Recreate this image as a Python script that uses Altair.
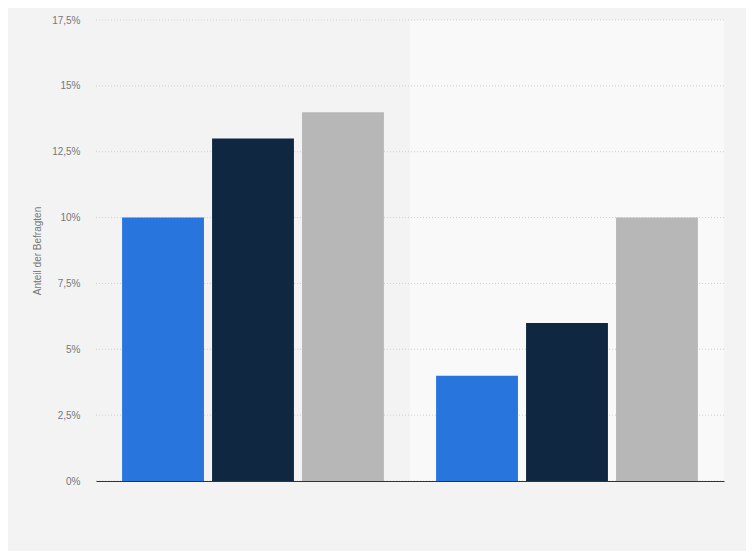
import altair as alt
import pandas as pd

categories = ["Gruppe A", "Gruppe A", "Gruppe A", "Gruppe B", "Gruppe B", "Gruppe B"]
series = ["Serie 1", "Serie 2", "Serie 3", "Serie 1", "Serie 2", "Serie 3"]
values = [10, 13, 14, 4, 6, 10]
series_order = ["Serie 1", "Serie 2", "Serie 3"]
series_colors = ["#2876dd", "#0f2740", "#b7b7b7"]
band_cats = ["Gruppe A", "Gruppe B"]
band_fill = ["#f3f3f3", "#f9f9f9"]
y_ticks = [0, 2.5, 5, 7.5, 10, 12.5, 15, 17.5]

df = pd.DataFrame({"cat": categories, "series": series, "value": values})
bands = pd.DataFrame({"cat": band_cats, "fill": band_fill})

xscale = alt.Scale(domain=band_cats, paddingInner=0, paddingOuter=0)
xaxis = alt.Axis(labels=False, ticks=False, title=None, domain=True,
                 domainColor="#333333", domainWidth=1.2, grid=False)
yscale = alt.Scale(domain=[0, 17.5], nice=False)
label_expr = ("datum.value % 1 == 0 ? format(datum.value, 'd') + '%' : "
              "replace(format(datum.value, '.1f'), '.', ',') + '%'")
yaxis = alt.Axis(values=y_ticks, labelExpr=label_expr, title="Anteil der Befragten",
                 domain=False, ticks=False, labelPadding=16, titlePadding=9,
                 gridDash=[1, 2], gridColor="#cfcfcf", labelColor="#777777",
                 labelFontSize=10, titleFontSize=10, titleColor="#777777",
                 titleFontWeight="normal", labelFont="Liberation Sans",
                 titleFont="Liberation Sans")

bg = alt.Chart(bands).mark_rect().encode(
    x=alt.X("cat:N", scale=xscale, axis=xaxis),
    color=alt.Color("fill:N", scale=None, legend=None),
)

bars = alt.Chart(df).mark_bar(stroke=None).encode(
    x=alt.X("cat:N", scale=xscale, axis=xaxis),
    xOffset=alt.XOffset("series:N", sort=series_order,
                        scale=alt.Scale(paddingInner=0.09, paddingOuter=0.29)),
    y=alt.Y("value:Q", scale=yscale, axis=yaxis),
    color=alt.Color("series:N", sort=series_order,
                    scale=alt.Scale(domain=series_order, range=series_colors),
                    legend=None),
)

grid = alt.Chart(pd.DataFrame({"v": y_ticks})).mark_rule(
    color="#cfcfcf", strokeDash=[1, 2], strokeWidth=1
).encode(y=alt.Y("v:Q", scale=yscale, axis=yaxis))

chart = alt.layer(bg, grid, bars).properties(
    width=628, height=461,
    background="#f3f3f3",
    padding={"left": 88, "top": 12, "right": 22, "bottom": 70},
    autosize=alt.AutoSizeParams(type="none"),
).configure_view(stroke=None).configure_axis(grid=False)

chart.save("out.html", embed_options={"renderer": "svg", "actions": False})
